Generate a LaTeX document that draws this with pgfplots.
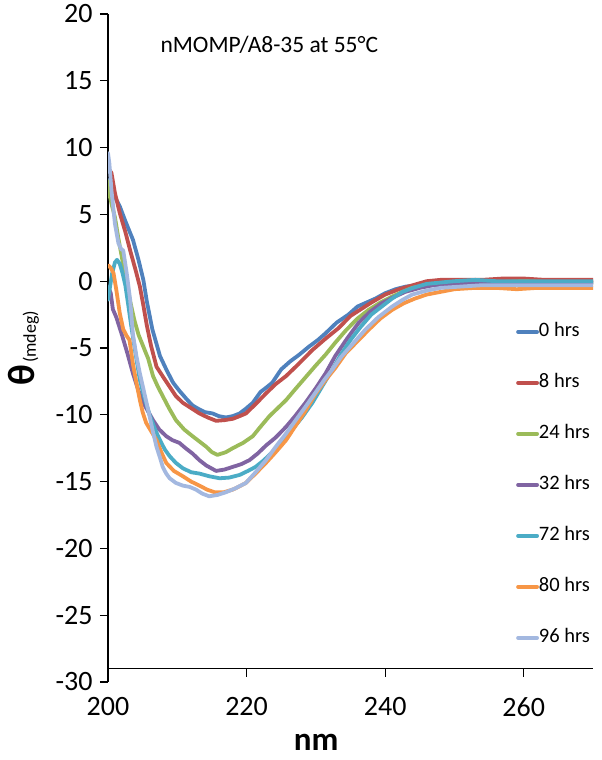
\documentclass[border=0pt]{standalone}
\usepackage{pgfplots}
\pgfplotsset{compat=1.18}
\usepackage{fontspec}
\setmainfont{Carlito}
\definecolor{c0}{HTML}{4F81BD}
\definecolor{c8}{HTML}{C0504D}
\definecolor{c24}{HTML}{9BBB59}
\definecolor{c32}{HTML}{8064A2}
\definecolor{c72}{HTML}{4BACC6}
\definecolor{c80}{HTML}{F79646}
\definecolor{c96}{HTML}{A3B8E0}
\pgfplotsset{
  common/.style={
    scale only axis, width=485pt,
    xmin=200, xmax=270,
    axis line style={line width=1.2pt, black},
    tick align=outside, major tick length=8pt,
    tick style={line width=1.2pt, black},
    /pgf/number format/assume math mode=true,
    ticklabel style={font=\fontsize{28}{30}\selectfont},
  }
}
\begin{document}
\begin{tikzpicture}
\useasboundingbox (-108pt,-78pt) rectangle (494pt,682pt);
% y axis from -30 to 20
\begin{axis}[common,
  at={(0pt,0pt)}, anchor=south west, height=668pt,
  ymin=-30, ymax=20,
  axis y line*=left, axis x line=none,
  ytick={-30,-25,...,20},
  yticklabel style={xshift=-4pt},
  ylabel={{\fontsize{38}{40}\selectfont\bfseries θ}\,\raisebox{-0.3ex}{\fontsize{18}{20}\selectfont(mdeg)}},
  ylabel style={at={(axis description cs:-0.174,0.5)}, anchor=center},
]
\end{axis}
% data axis, x axis crossing at -29
\begin{axis}[common,
  at={(0pt,13.36pt)}, anchor=south west, height=654.64pt,
  ymin=-29, ymax=20,
  axis x line*=bottom, axis y line=none,
  xtick={200,220,240,260},
  xticklabel style={yshift=-17pt},
  xlabel={\fontsize{33}{36}\selectfont\bfseries nm},
  xlabel style={at={(axis description cs:0.429,-0.113)}, anchor=center},
  legend style={at={(rel axis cs:0.835,0.5316)}, anchor=north west, draw=none, fill=none,
     font=\fontsize{20.5}{22}\selectfont, row sep=33pt,
     nodes={inner sep=0pt, text height=14pt, text depth=4pt, anchor=west}},
  legend cell align=left,
  legend image code/.code={\draw[#1, line width=3.8pt] (0pt,0pt) -- (19pt,0pt);},
  every axis plot/.append style={line width=3.8pt, line join=round, line cap=round},
]
\addplot[c0] coordinates {
(200.0,7.6)(200.5,7.0)(201.0,6.3)(201.7,5.6)(202.5,4.5)(203.6,3.1)(204.4,1.6)(205.1,0.1)(205.6,-1.5)(206.4,-3.6)
(207.5,-5.6)(208.5,-6.7)(209.4,-7.6)(210.3,-8.2)(211.3,-8.8)(212.2,-9.3)(213.2,-9.6)(214.0,-9.8)(215.1,-9.9)(216.0,-10.1)
(217.0,-10.2)(218.0,-10.1)(219.0,-9.9)(220.0,-9.5)(220.9,-9.1)(222.0,-8.3)(223.0,-7.9)(223.7,-7.6)(225.0,-6.6)(226.3,-6.0)
(227.6,-5.5)(229.0,-4.9)(230.3,-4.4)(231.4,-3.9)(233.0,-3.1)(234.7,-2.5)(236.0,-1.9)(237.3,-1.6)(238.6,-1.3)(240.0,-0.9)
(241.5,-0.6)(243.0,-0.4)(245.0,-0.3)(247.0,-0.1)(249.0,0.0)(252.0,0.0)(255.0,-0.1)(258.0,0.0)(261.0,-0.1)(264.0,0.0)(267.0,-0.1)(270.0,-0.1)};
\addlegendentry{0 hrs}
\addplot[c8] coordinates {
(200.0,8.5)(200.5,8.1)(201.0,6.6)(201.7,5.1)(202.5,3.7)(203.2,2.3)(204.0,0.8)(204.6,-0.4)(205.1,-1.8)(205.6,-3.3)
(206.2,-4.8)(207.0,-6.4)(208.0,-7.2)(208.9,-7.9)(209.8,-8.6)(210.8,-9.1)(212.0,-9.5)(213.2,-9.9)(214.4,-10.2)(215.6,-10.45)
(216.8,-10.4)(218.0,-10.3)(219.0,-10.1)(219.9,-9.9)(221.3,-9.2)(222.8,-8.4)(224.2,-7.7)(225.7,-7.1)(227.5,-6.2)(229.5,-5.15)
(231.4,-4.3)(233.3,-3.5)(235.0,-2.6)(236.5,-2.1)(238.0,-1.6)(240.0,-1.0)(242.0,-0.6)(244.0,-0.3)(246.0,0.0)(248.0,0.1)
(251.0,0.1)(254.0,0.1)(257.0,0.2)(260.0,0.2)(263.0,0.1)(266.0,0.1)(270.0,0.1)};
\addlegendentry{8 hrs}
\addplot[c24] coordinates {
(200.0,7.5)(200.2,6.5)(200.6,5.6)(201.0,4.8)(201.5,3.2)(202.0,1.8)(202.6,0.0)(203.2,-1.5)(203.8,-2.9)(204.4,-4.0)
(205.1,-4.9)(205.8,-5.8)(206.5,-7.1)(207.2,-7.9)(207.9,-8.6)(208.8,-9.5)(209.8,-10.4)(211.0,-11.1)(212.2,-11.6)(213.2,-12.0)
(214.2,-12.4)(215.0,-12.8)(215.8,-13.0)(217.0,-12.8)(218.0,-12.5)(219.5,-12.1)(220.9,-11.6)(222.0,-10.9)(223.3,-10.1)(224.5,-9.5)
(225.7,-8.9)(227.0,-8.1)(228.5,-7.2)(230.0,-6.3)(231.4,-5.5)(232.8,-4.6)(234.3,-3.7)(236.0,-2.8)(237.6,-2.15)(239.3,-1.6)
(241.0,-1.15)(242.5,-0.8)(243.9,-0.5)(246.0,-0.3)(248.0,-0.2)(251.0,-0.1)(255.0,-0.1)(260.0,0.0)(265.0,-0.1)(270.0,-0.1)};
\addlegendentry{24 hrs}
\addplot[c32] coordinates {
(200.0,-0.4)(200.4,-0.9)(200.7,-2.1)(201.2,-2.7)(202.0,-4.0)(202.8,-5.4)(203.6,-6.9)(204.4,-8.2)(205.3,-9.3)(206.5,-10.4)
(207.4,-11.1)(208.4,-11.6)(209.3,-11.9)(210.3,-12.1)(211.2,-12.5)(212.2,-12.9)(213.2,-13.4)(214.2,-13.8)(215.6,-14.2)(216.8,-14.1)
(218.0,-13.9)(219.2,-13.7)(220.4,-13.4)(221.6,-12.9)(222.8,-12.3)(224.2,-11.7)(225.7,-10.9)(227.0,-10.1)(228.5,-9.1)(230.0,-8.0)
(231.4,-6.9)(232.8,-5.6)(234.5,-4.3)(236.2,-3.1)(237.8,-2.3)(239.5,-1.65)(241.2,-1.2)(242.9,-0.8)(245.0,-0.5)(247.0,-0.3)
(250.0,-0.2)(253.0,-0.1)(257.0,-0.1)(262.0,-0.1)(266.0,-0.1)(270.0,-0.1)};
\addlegendentry{32 hrs}
\addplot[c72] coordinates {
(200.0,-1.4)(200.3,-0.4)(200.6,0.6)(201.0,1.4)(201.3,1.6)(201.7,1.3)(202.1,0.6)(202.5,-0.3)(202.9,-1.7)(203.4,-3.5)
(204.0,-5.5)(204.6,-7.4)(205.3,-8.8)(206.0,-10.0)(206.8,-11.1)(207.5,-11.9)(208.2,-12.6)(208.9,-13.1)(209.8,-13.6)(210.8,-14.0)
(212.0,-14.3)(213.2,-14.4)(214.6,-14.6)(216.1,-14.75)(217.5,-14.7)(219.0,-14.5)(220.2,-14.2)(221.3,-13.9)(222.5,-13.4)(223.7,-12.8)
(225.2,-12.0)(226.6,-11.1)(228.0,-10.2)(229.5,-9.1)(231.0,-7.8)(232.4,-6.6)(233.6,-5.5)(235.0,-4.4)(236.5,-3.4)(238.0,-2.5)
(239.5,-1.9)(241.0,-1.3)(242.5,-0.8)(244.0,-0.5)(246.0,-0.2)(248.0,-0.1)(250.0,0.0)(253.0,0.1)(256.0,0.0)(260.0,0.0)
(264.0,0.0)(267.0,0.0)(270.0,0.0)};
\addlegendentry{72 hrs}
\addplot[c80] coordinates {
(200.0,1.2)(200.4,1.0)(200.8,0.6)(201.2,-0.65)(201.7,-2.4)(202.2,-3.6)(202.7,-4.1)(203.1,-4.4)(203.6,-6.2)(204.1,-7.6)
(204.6,-8.9)(205.0,-9.8)(205.5,-10.6)(206.2,-11.2)(207.0,-11.9)(207.7,-12.8)(208.4,-13.6)(209.5,-14.2)(210.8,-14.6)(212.0,-15.0)
(213.2,-15.3)(214.3,-15.6)(215.4,-15.8)(216.7,-15.8)(218.0,-15.6)(219.0,-15.35)(219.9,-15.1)(221.3,-14.4)(222.8,-13.6)(224.2,-12.8)
(225.7,-11.9)(227.1,-10.8)(228.5,-9.7)(230.0,-8.4)(231.4,-7.4)(232.8,-6.5)(234.3,-5.4)(236.0,-4.5)(237.6,-3.65)(239.3,-2.8)
(241.0,-2.15)(242.7,-1.65)(244.3,-1.3)(246.0,-1.0)(248.0,-0.8)(250.0,-0.6)(253.0,-0.5)(256.0,-0.5)(259.0,-0.6)(262.0,-0.5)
(266.0,-0.5)(270.0,-0.5)};
\addlegendentry{80 hrs}
\addplot[c96] coordinates {
(200.0,9.6)(200.2,8.8)(200.5,6.8)(201.0,4.3)(201.5,2.85)(201.9,2.4)(202.2,2.3)(202.7,0.6)(203.2,-1.4)(203.6,-4.0)
(204.1,-5.6)(204.6,-6.9)(205.3,-8.5)(206.0,-10.1)(206.5,-11.3)(207.0,-12.4)(207.5,-13.2)(207.9,-13.9)(208.4,-14.4)(208.9,-14.75)
(209.8,-15.1)(210.8,-15.3)(211.8,-15.4)(212.7,-15.6)(213.6,-15.9)(214.6,-16.1)(215.8,-16.0)(217.0,-15.8)(218.4,-15.5)(219.9,-15.1)
(221.3,-14.3)(222.8,-13.4)(224.2,-12.4)(225.7,-11.4)(227.1,-10.4)(228.5,-9.4)(230.0,-8.3)(231.2,-7.4)(232.4,-6.6)(233.6,-5.7)
(235.3,-4.7)(237.1,-3.65)(239.0,-2.7)(241.0,-1.9)(242.5,-1.4)(243.9,-1.0)(246.0,-0.7)(248.0,-0.5)(251.0,-0.4)(254.0,-0.3)
(258.0,-0.3)(262.0,-0.3)(266.0,-0.3)(270.0,-0.3)};
\addlegendentry{96 hrs}
\node[anchor=west, font=\fontsize{23.5}{25}\selectfont] at (rel axis cs:0.101,0.9532) {nMOMP/A8-35 at 55°C};
\end{axis}
\end{tikzpicture}
\end{document}
